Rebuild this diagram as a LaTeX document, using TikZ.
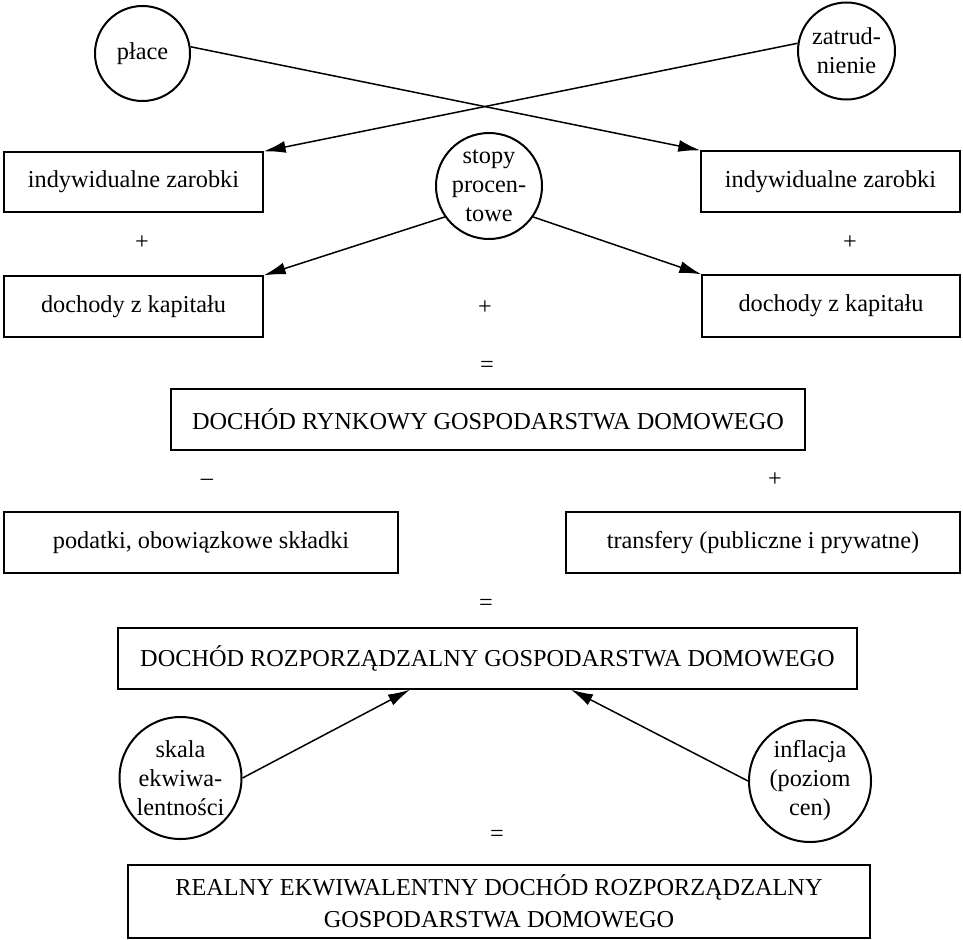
\documentclass[tikz,border=0pt]{standalone}
\usepackage{fontspec}
\setmainfont{Liberation Serif}
\usetikzlibrary{arrows.meta,calc}
\begin{document}
\begin{tikzpicture}[x=1pt,y=-1pt,
  every node/.style={font=\fontsize{24.3}{29}\selectfont},
  box/.style={draw, line width=1.3pt, rectangle, inner sep=0pt, align=center},
  circ/.style={draw, line width=2pt, circle, inner sep=0pt, align=center},
  sign/.style={inner sep=0pt},
  arr/.style={line width=1.5pt, -{Latex[length=22pt,width=12pt]}}]
\useasboundingbox[fill=white] (0,0) rectangle (963,939);

% circles
\node[circ, minimum size=95pt]  (place)  at (142.5,53.5) {płace};
\node[circ, minimum size=97pt]  (zatr)   at (846.5,51)   {zatrud-\\nienie};
\node[circ, minimum size=106pt] (stopy)  at (489,186)    {stopy\\procen-\\towe};
\node[circ, minimum size=122pt] (skala)  at (180.5,778)  {skala\\ekwiwa-\\lentności};
\node[circ, minimum size=122pt] (infl)   at (810,781)    {inflacja\\(poziom\\cen)};

% boxes
\node[box, minimum width=259pt, minimum height=60pt] (izl) at (133.5,182)   {indywidualne zarobki};
\node[box, minimum width=259pt, minimum height=61pt] (izr) at (830.5,181.5) {indywidualne zarobki};
\node[box, minimum width=259pt, minimum height=61pt] (dkl) at (133.5,306.5) {dochody z kapitału};
\node[box, minimum width=258pt, minimum height=62pt] (dkr) at (831,306)     {dochody z kapitału};
\node[box, minimum width=634pt, minimum height=61pt] (drynk) at (488,419.5) {DOCHÓD RYNKOWY GOSPODARSTWA DOMOWEGO};
\node[box, minimum width=394pt, minimum height=61pt] (pod) at (201,542.5)   {podatki, obowiązkowe składki};
\node[box, minimum width=394pt, minimum height=61pt] (tra) at (763,542.5)   {transfery (publiczne i prywatne)};
\node[box, minimum width=739pt, minimum height=61pt] (drozp) at (487.5,658.5) {DOCHÓD ROZPORZĄDZALNY GOSPODARSTWA DOMOWEGO};
\node[box, minimum width=742pt, minimum height=73pt, font=\fontsize{24.3}{32}\selectfont] (real) at (499,901.5)
  {REALNY EKWIWALENTNY DOCHÓD ROZPORZĄDZALNY\\GOSPODARSTWA DOMOWEGO};

% signs
\node[sign] (p1) at (142,243) {+};
\node[sign] (p2) at (850,243) {+};
\node[sign] (p3) at (485,308) {+};
\node[sign] (e1) at (487,367) {=};
\node[sign] (m1) at (207,482) {\textendash};
\node[sign] (p4) at (775,480) {+};
\node[sign] (e2) at (486,605) {=};
\node[sign] (e3) at (497,836) {=};

% connectors
\draw[arr] (place.8) -- (izr.north west);
\draw[arr] (zatr.171) -- (izl.north east);
\draw[arr] (stopy.215) -- (dkl.north east);
\draw[arr] (stopy.325) -- (dkr.north west);
\draw[arr] (skala.east) -- ([xshift=-77.5pt]drozp.south);
\draw[arr] (infl.west) -- ([xshift=83.5pt]drozp.south);
\end{tikzpicture}
\end{document}
